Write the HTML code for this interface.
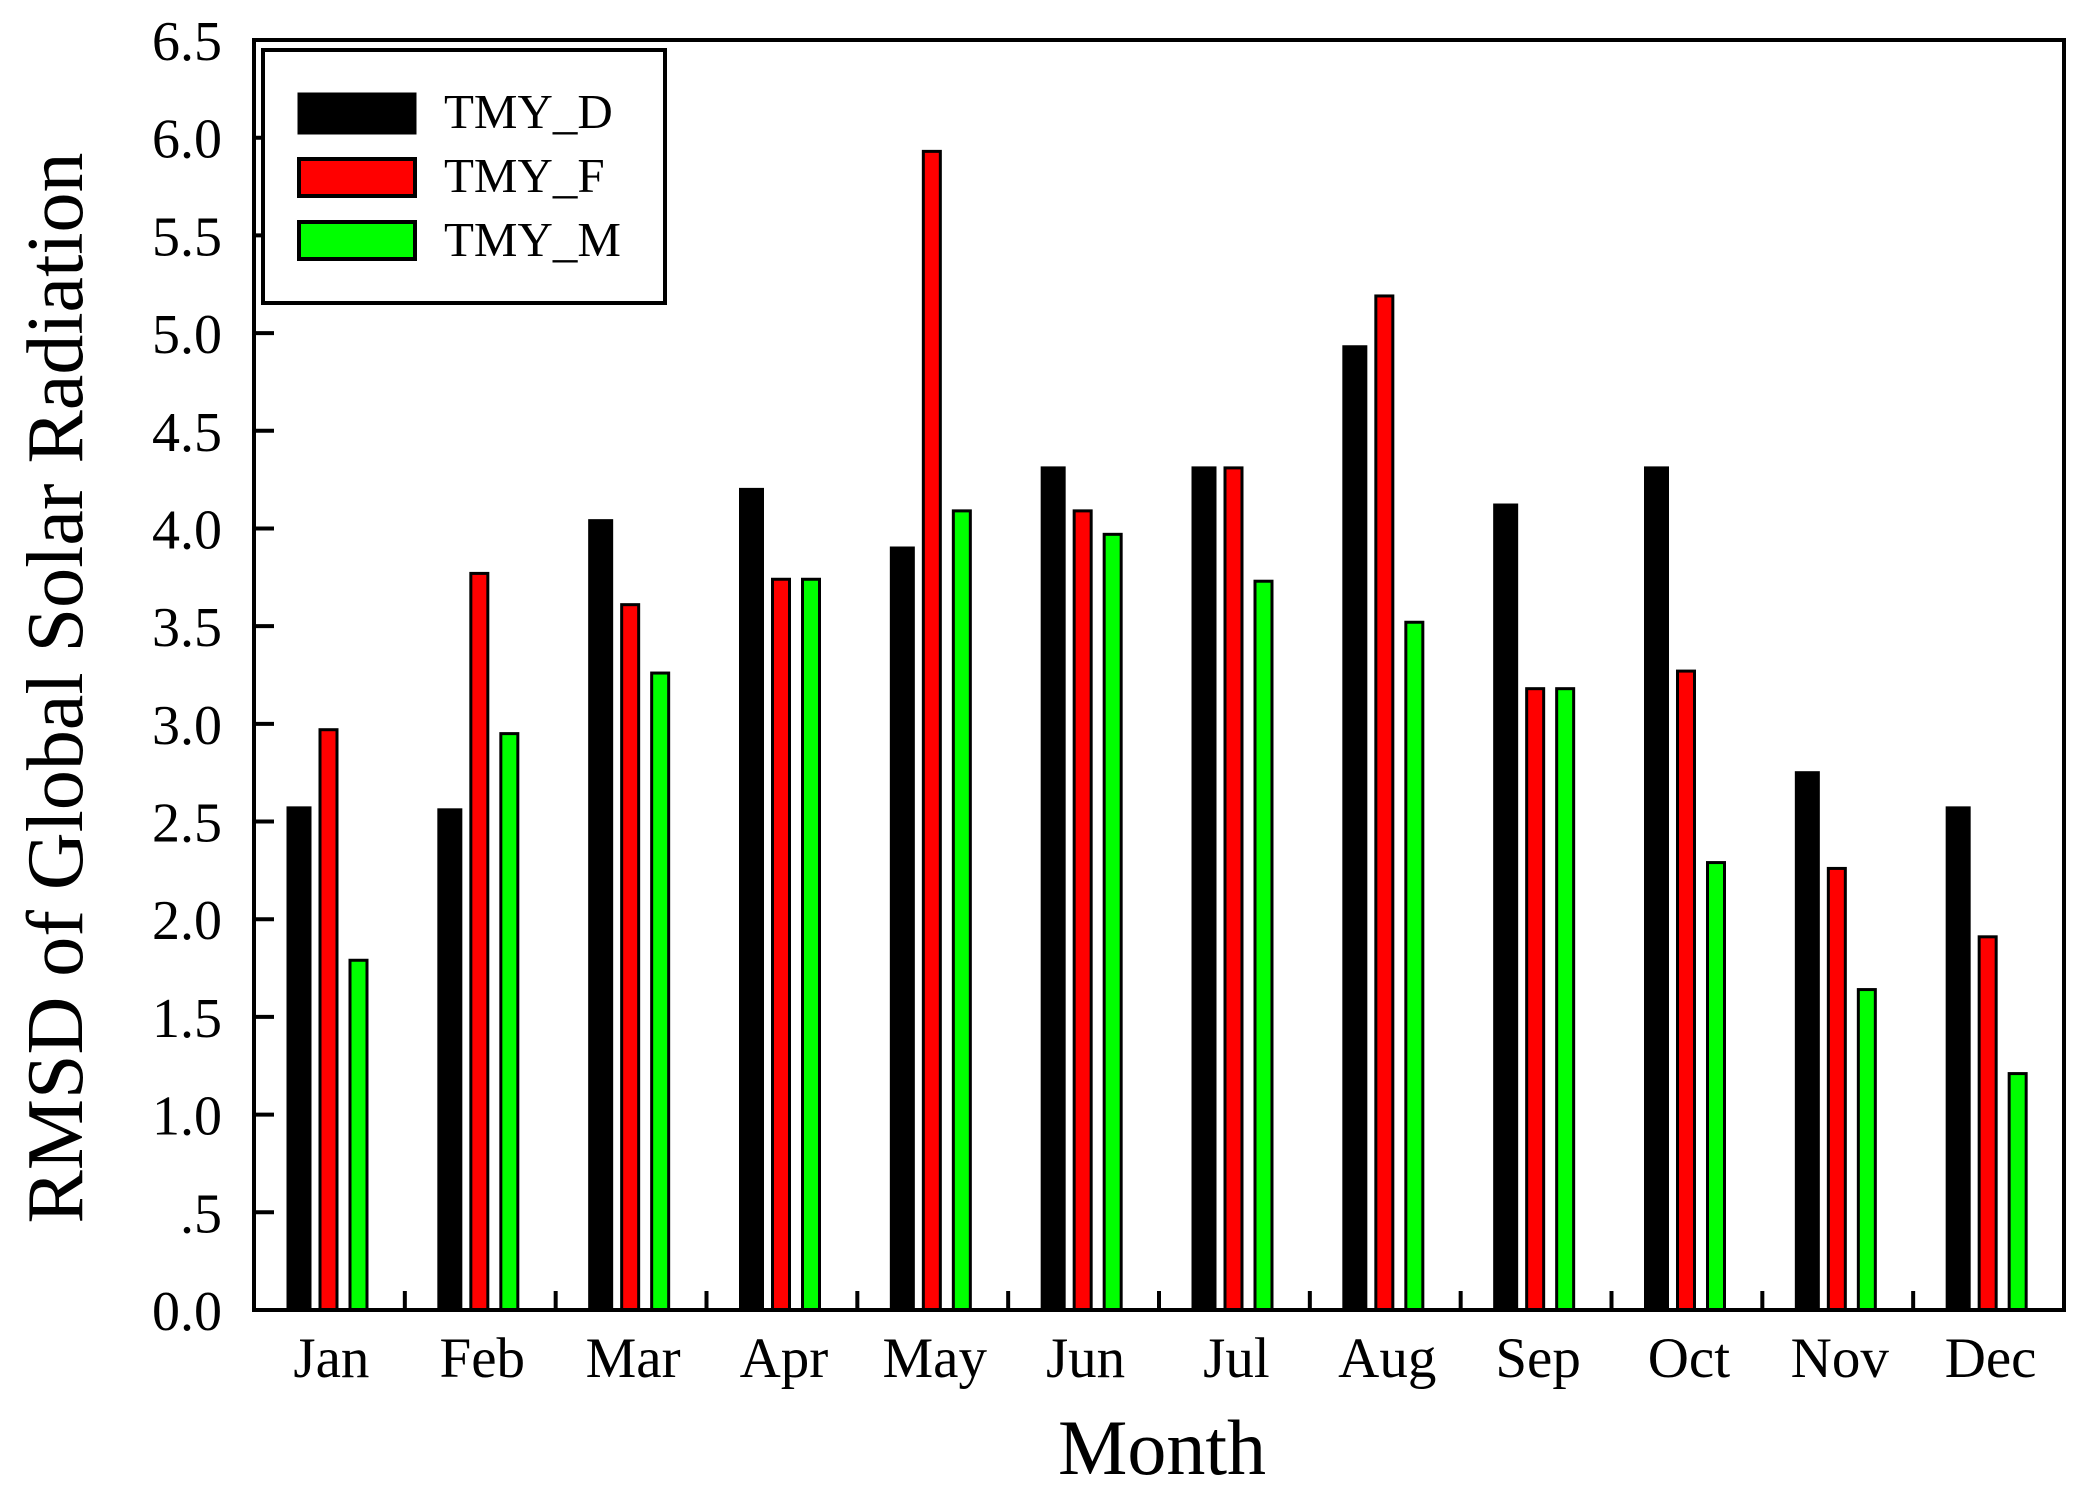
<!DOCTYPE html>
<html><head><meta charset="utf-8"><style>
html,body{margin:0;padding:0;background:#fff;}
svg{display:block;font-family:"Liberation Serif",serif;}
</style></head><body>
<svg id="chart" width="2088" height="1497" viewBox="0 0 2088 1497">
<g id="bars"></g>
<g id="axes"></g>
<text x="1162" y="1474" font-size="78" text-anchor="middle">Month</text>
<text transform="translate(82,688) rotate(-90)" font-size="80" text-anchor="middle">RMSD of Global Solar Radiation</text>
<g>
<rect x="263" y="50" width="402" height="253" fill="#fff" stroke="#000" stroke-width="4"/>
<rect x="299" y="94" width="116" height="39" fill="#000" stroke="#000" stroke-width="3"/>
<text x="444" y="128" font-size="49">TMY_D</text>
<rect x="299" y="159" width="116" height="37" fill="#ff0000" stroke="#000" stroke-width="4"/>
<text x="444" y="192" font-size="49">TMY_F</text>
<rect x="299" y="222" width="116" height="37" fill="#00ff00" stroke="#000" stroke-width="4"/>
<text x="444" y="256" font-size="49">TMY_M</text>
</g>
</svg>
<script>
const categories = ["Jan","Feb","Mar","Apr","May","Jun","Jul","Aug","Sep","Oct","Nov","Dec"];
const tmyD = [2.57,2.56,4.04,4.20,3.90,4.31,4.31,4.93,4.12,4.31,2.75,2.57];
const tmyF = [2.97,3.77,3.61,3.74,5.93,4.09,4.31,5.19,3.18,3.27,2.26,1.91];
const tmyM = [1.79,2.95,3.26,3.74,4.09,3.97,3.73,3.52,3.18,2.29,1.64,1.21];
const yTickLabels = ["0.0",".5","1.0","1.5","2.0","2.5","3.0","3.5","4.0","4.5","5.0","5.5","6.0","6.5"];

const NS="http://www.w3.org/2000/svg";
const L=254,R=2064,T=40,B=1310,YMAX=6.5;
const gw=(R-L)/categories.length;
const y=v=>B-(v/YMAX)*(B-T);
const xg=i=>L+i*gw;
function mk(tag,attrs,parent){const e=document.createElementNS(NS,tag);for(const k in attrs)e.setAttribute(k,attrs[k]);parent.appendChild(e);return e;}
const bars=document.getElementById('bars'), axes=document.getElementById('axes');
const series=[{d:tmyD,c:"#000",off:34,w:22,n:"tmy-d"},{d:tmyF,c:"#ff0000",off:66,w:17,n:"tmy-f"},{d:tmyM,c:"#00ff00",off:96,w:17,n:"tmy-m"}];
series.forEach(s=>{
  s.d.forEach((v,i)=>{
    const r=mk('rect',{x:xg(i)+s.off,y:y(v),width:s.w,height:B-y(v),fill:s.c,stroke:"#000","stroke-width":3},bars);
    
    
  });
});
const fr=mk('rect',{x:L,y:T,width:R-L,height:B-T,fill:"none",stroke:"#000","stroke-width":4},axes);


yTickLabels.forEach((lab,i)=>{
  const v=i*0.5, yy=y(v);
  if(i>0&&i<yTickLabels.length-1){
    const t=mk('line',{x1:L,x2:L+20,y1:yy,y2:yy,stroke:"#000","stroke-width":4},axes);
    
    
  }
  const tx=mk('text',{x:222,y:yy+20,"font-size":56,"text-anchor":"end"},axes);
  tx.textContent=lab;
  
  
});
categories.forEach((c,i)=>{
  if(i>0){
    const t=mk('line',{x1:xg(i),x2:xg(i),y1:B,y2:B-19,stroke:"#000","stroke-width":4},axes);
    
    
  }
  const tx=mk('text',{x:xg(i)+gw/2+2,y:1377,"font-size":57,"text-anchor":"middle"},axes);
  tx.textContent=c;
  
  
});
</script>
</body></html>
